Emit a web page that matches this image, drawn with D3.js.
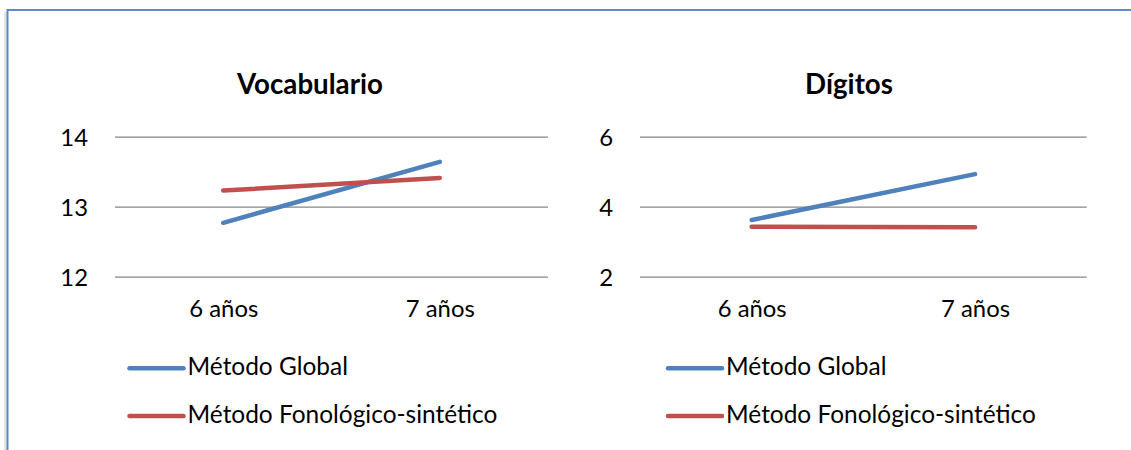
<!DOCTYPE html>
<html>
<head>
<meta charset="utf-8">
<script src="https://cdn.jsdelivr.net/npm/d3@7"></script>
<style>
  html, body { margin: 0; padding: 0; background: #ffffff; }
  svg { display: block; }
</style>
</head>
<body>
<svg id="chart" width="1131" height="450"></svg>
<script>
// Age groups on the x axis
const categories = ["6 años", "7 años"];
// Teaching methods (legend entries)
const seriesNames = ["Método Global", "Método Fonológico-sintético"];

// Vocabulario scores
const vocabGlobal = [12.77, 13.64];
const vocabFonologico = [13.23, 13.41];
const vocabTicks = [12, 13, 14];

// Dígitos scores
const digitosGlobal = [3.62, 4.93];
const digitosFonologico = [3.43, 3.41];
const digitosTicks = [2, 4, 6];

const colors = ["#4F81BD", "#C0504D"];
const FONT = "Lato, 'Open Sans', sans-serif";

const svg = d3.select("#chart");

// Outer frame (top and left edges of the chart container)
svg.append("line")
  .attr("x1", 5.5).attr("x2", 5.5).attr("y1", 12).attr("y2", 450)
  .attr("stroke", "#e4e4e4").attr("stroke-width", 3);
svg.append("path")
  .attr("d", "M7.5,450 V10 H1131")
  .attr("fill", "none")
  .attr("stroke", "#5B8ACB")
  .attr("stroke-width", 2);

// Font size that makes a sample string span a given width
function fitSize(sample, weight, width) {
  const t = svg.append("text")
    .attr("font-family", FONT).attr("font-weight", weight)
    .attr("font-size", 100).text(sample);
  const w = t.node().getComputedTextLength();
  t.remove();
  return 100 * width / w;
}
const titleSize = fitSize("Vocabulario", "bold", 146);
const tickSize = fitSize("6 años", "normal", 69);
const legendSize = fitSize("Método Fonológico-sintético", "normal", 310);

function drawPanel(cfg) {
  const g = svg.append("g");
  const x = d3.scalePoint().domain(categories).range([cfg.left, cfg.right]).padding(0.5);
  const y = d3.scaleLinear().domain([cfg.ticks[0], cfg.ticks[cfg.ticks.length - 1]]).range([276.7, 136.7]);

  // Title
  g.append("text")
    .attr("x", cfg.titleX).attr("y", 94)
    .attr("text-anchor", "middle")
    .attr("font-family", FONT).attr("font-weight", "bold")
    .attr("font-size", titleSize).attr("fill", "#000")
    .text(cfg.title);

  // Value axis with horizontal gridlines
  const yAxis = g.append("g")
    .attr("transform", `translate(${cfg.left},0)`)
    .call(d3.axisLeft(y).tickValues(cfg.ticks).tickFormat(d3.format("d"))
      .tickSize(-(cfg.right - cfg.left)).tickPadding(27));
  yAxis.select(".domain").remove();
  yAxis.selectAll(".tick line").attr("stroke", "#868686").attr("stroke-width", 1.2);
  yAxis.selectAll(".tick text")
    .attr("font-family", FONT).attr("font-size", tickSize).attr("fill", "#000")
    .attr("dy", "0.36em");

  // Category axis
  const xAxis = g.append("g")
    .attr("transform", "translate(0,276.7)")
    .call(d3.axisBottom(x).tickSize(0).tickPadding(0));
  xAxis.select(".domain").remove();
  xAxis.selectAll(".tick text")
    .attr("font-family", FONT).attr("font-size", tickSize).attr("fill", "#000")
    .attr("dy", 0).attr("y", 40);

  // Series lines
  const line = d3.line().x((d, i) => x(categories[i])).y(d => y(d));
  cfg.series.forEach((vals, i) => {
    g.append("path")
      .datum(vals)
      .attr("d", line)
      .attr("fill", "none")
      .attr("stroke", colors[i])
      .attr("stroke-width", 4.5)
      .attr("stroke-linecap", "round");
  });

  // Legend
  const rows = [368.3, 416];
  seriesNames.forEach((name, i) => {
    g.append("line")
      .attr("x1", cfg.legendX).attr("x2", cfg.legendX + 54)
      .attr("y1", rows[i]).attr("y2", rows[i])
      .attr("stroke", colors[i]).attr("stroke-width", 4.5)
      .attr("stroke-linecap", "round");
    g.append("text")
      .attr("x", cfg.legendX + 58).attr("y", rows[i] + 7)
      .attr("font-family", FONT).attr("font-size", legendSize).attr("fill", "#000")
      .text(name);
  });
}

drawPanel({
  title: "Vocabulario", titleX: 310,
  left: 115, right: 548,
  ticks: vocabTicks,
  series: [vocabGlobal, vocabFonologico],
  legendX: 129.5
});

drawPanel({
  title: "Dígitos", titleX: 849,
  left: 640, right: 1086.7,
  ticks: digitosTicks,
  series: [digitosGlobal, digitosFonologico],
  legendX: 668
});
</script>
</body>
</html>
